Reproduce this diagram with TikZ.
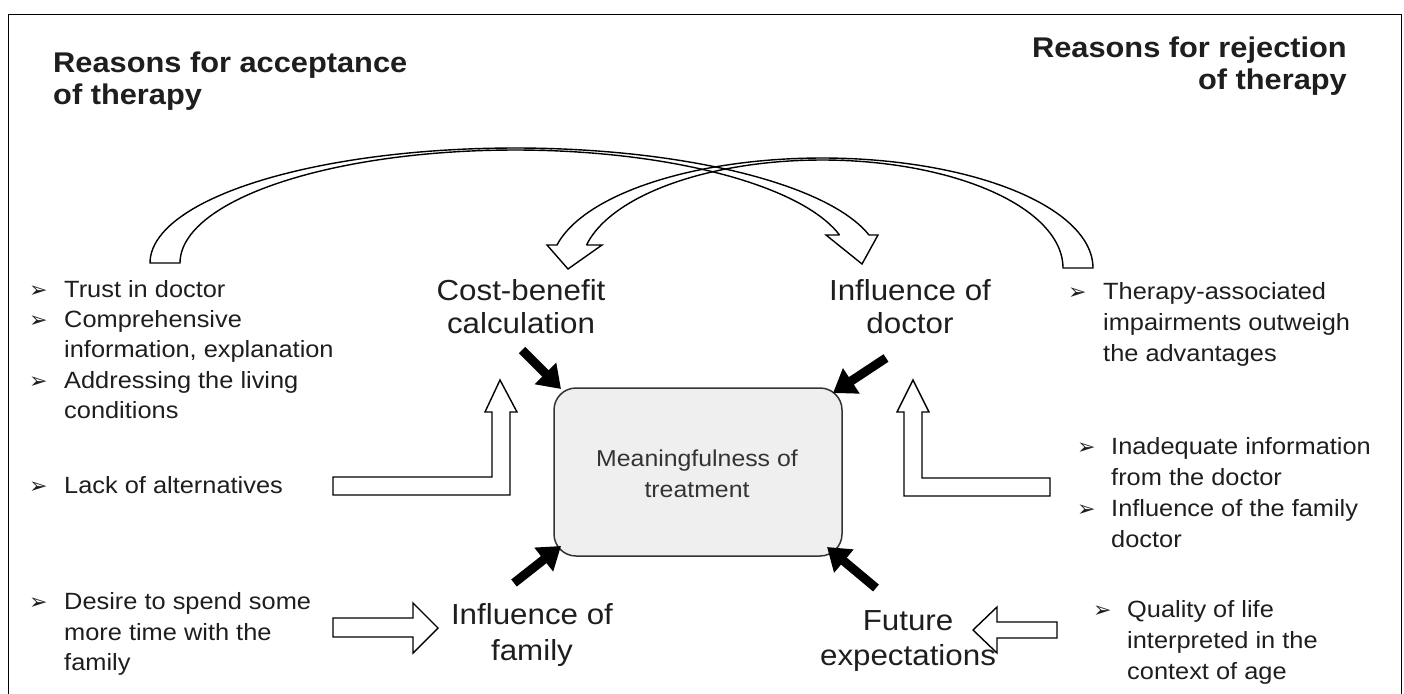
\documentclass[tikz,border=0pt]{standalone}
\usepackage{fontspec}
\setmainfont{Liberation Sans}[FakeStretch=1.08]
\newfontfamily\bulletfont{DejaVu Sans}
\usetikzlibrary{arrows.meta}
\definecolor{txtc}{HTML}{1E1E1E}
\definecolor{boxfill}{HTML}{EFEFEF}
\tikzset{
  txt/.style={anchor=base west, inner sep=0pt, text=txtc, font=\fontsize{23.5}{28}\selectfont},
  bul/.style={anchor=base west, inner sep=0pt, text=txtc, font=\bulletfont\fontsize{22}{26}\selectfont},
  lab/.style={anchor=base, inner sep=0pt, text=txtc, font=\fontsize{29}{34}\selectfont},
  ttl/.style={inner sep=0pt, text=txtc, font=\bfseries\fontsize{28.5}{32}\selectfont},
  hollow/.style={draw=black, line width=1.4pt, line join=miter},
  blk/.style={line width=9pt, black, -{Triangle[length=22pt,width=29pt]}},
}
\begin{document}
\begin{tikzpicture}[x=1pt,y=-1pt]
\useasboundingbox (0,0) rectangle (1404,693);
\draw[line width=1.5pt] (8.5,14.5) -- (1401.5,14.5) -- (1401.5,700) (8.5,14.5) -- (8.5,700);

% titles
\node[ttl, anchor=base west] (tl1) at (53,72) {Reasons for acceptance};
\node[ttl, anchor=base west] (tl2) at (53,104) {of therapy};
\node[ttl, anchor=base east] (tr1) at (1347,57) {Reasons for rejection};
\node[ttl, anchor=base east] (tr2) at (1347,89) {of therapy};

% left bullets
\node[bul] (lb1) at (29,297) {➢};
\node[txt] (l1) at (64,297) {Trust in doctor};
\node[bul] (lb2) at (29,327) {➢};
\node[txt] (l2a) at (64,327) {Comprehensive};
\node[txt] (l2b) at (64,357) {information, explanation};
\node[bul] (lb3) at (29,388) {➢};
\node[txt] (l3a) at (64,388) {Addressing the living};
\node[txt] (l3b) at (64,418) {conditions};
\node[bul] (lb4) at (29,493) {➢};
\node[txt] (l4) at (64,493) {Lack of alternatives};
\node[bul] (lb5) at (29,609) {➢};
\node[txt] (l5a) at (64,609) {Desire to spend some};
\node[txt] (l5b) at (64,640) {more time with the};
\node[txt] (l5c) at (64,670) {family};

% right bullets
\node[bul] (rb1) at (1068,299) {➢};
\node[txt] (r1a) at (1103,299) {Therapy-associated};
\node[txt] (r1b) at (1103,330) {impairments outweigh};
\node[txt] (r1c) at (1103,361) {the advantages};
\node[bul] (rb2) at (1077,454) {➢};
\node[txt] (r2a) at (1111,454) {Inadequate information};
\node[txt] (r2b) at (1111,485) {from the doctor};
\node[bul] (rb3) at (1077,516) {➢};
\node[txt] (r3a) at (1111,516) {Influence of the family};
\node[txt] (r3b) at (1111,547) {doctor};
\node[bul] (rb4) at (1093,617) {➢};
\node[txt] (r4a) at (1127,617) {Quality of life};
\node[txt] (r4b) at (1127,648) {interpreted in the};
\node[txt] (r4c) at (1127,679) {context of age};

% factor labels
\node[lab] (cb1) at (521,300) {Cost-benefit};
\node[lab] (cb2) at (521,333) {calculation};
\node[lab] (id1) at (910,300) {Influence of};
\node[lab] (id2) at (910,333) {doctor};
\node[lab] (if1) at (532,624) {Influence of};
\node[lab] (if2) at (532,660) {family};
\node[lab] (fe1) at (908,630) {Future};
\node[lab] (fe2) at (908,665) {expectations};

% central box
\node[draw=black!80, line width=1.5pt, fill=boxfill, rounded corners=22pt,
      minimum width=288pt, minimum height=168pt, inner sep=0pt] (box) at (698,472) {};
\node[anchor=base, inner sep=0pt, text=black!80, font=\fontsize{23}{26}\selectfont] (bt1) at (697,466) {Meaningfulness of};
\node[anchor=base, inner sep=0pt, text=black!80, font=\fontsize{23}{26}\selectfont] (bt2) at (697,497) {treatment};

% black arrows
\coordinate (k1s) at (522,350); \coordinate (k1e) at (561,389);
\coordinate (k2s) at (886,358); \coordinate (k2e) at (833,393);
\coordinate (k3s) at (514,583); \coordinate (k3e) at (561,546);
\coordinate (k4s) at (876,588); \coordinate (k4e) at (827,547);
\draw[blk] (k1s) -- (k1e);
\draw[blk] (k2s) -- (k2e);
\draw[blk] (k3s) -- (k3e);
\draw[blk] (k4s) -- (k4e);

% hollow L arrows
\draw[hollow] (333,477) -- (492,477) -- (492,412) -- (485,412) -- (500,380) -- (517,412) -- (510,412) -- (510,495) -- (333,495) -- cycle;
\draw[hollow] (1050,478) -- (922,478) -- (922,412) -- (929,412) -- (913,380) -- (897,412) -- (904,412) -- (904,496) -- (1050,496) -- cycle;
% hollow straight arrows
\draw[hollow] (333,618) -- (413,618) -- (413,603) -- (438,628) -- (413,653) -- (413,637) -- (333,637) -- cycle;
\draw[hollow] (1057,622) -- (997,622) -- (997,607) -- (973,630) -- (997,653) -- (997,638) -- (1057,638) -- cycle;

% curved arrows
\draw[hollow] plot[domain=180:14.1, samples=90] ({515+365*cos(\x)}, {263-115*sin(\x)})
  -- (878,235) -- (862,264) -- (826,235) -- (839.6,235)
  -- plot[domain=14.35:180, samples=90] ({515+335*cos(\x)}, {263-113*sin(\x)}) -- cycle;
\draw[hollow] plot[domain=0:167.93, samples=90] ({822+271*cos(\x)}, {268-110*sin(\x)})
  -- (547,245) -- (568,269) -- (602,245) -- (586.5,245)
  -- plot[domain=167.7:0, samples=90] ({822+241*cos(\x)}, {268-108*sin(\x)}) -- cycle;
\end{tikzpicture}
\end{document}
